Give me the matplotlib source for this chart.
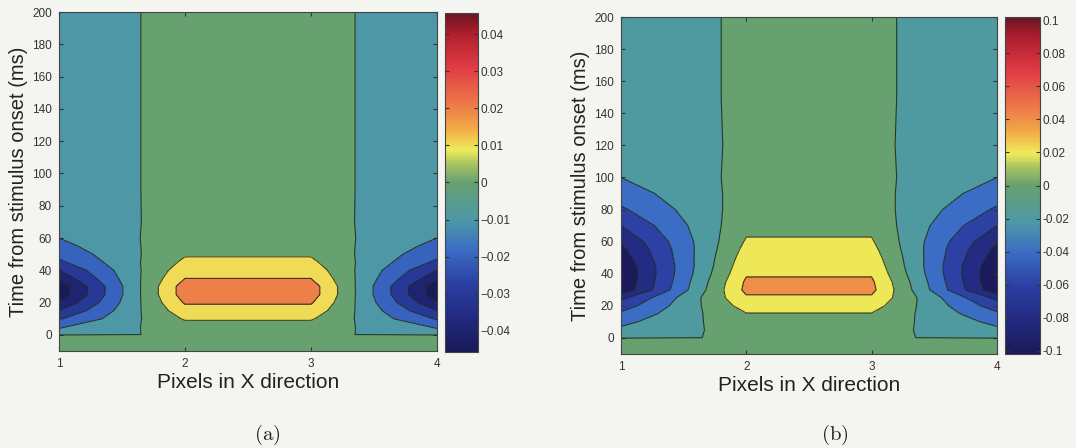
import numpy as np
import matplotlib
matplotlib.use("Agg")
from matplotlib import pyplot as plt
from matplotlib.colors import LinearSegmentedColormap, Normalize
from matplotlib.cm import ScalarMappable

## Data
# pixel positions (x) and time samples (ms); columns are [edge, centre, centre, edge]
pixels = [1, 2, 3, 4]
t_ms = [-10, -0.2, 0.2, 5, 10, 15, 20, 25, 30, 35, 40, 45, 50, 55, 60, 70, 80, 90, 100, 120, 150, 200]

# panel (a)
center_a = [0.003, 0.003, 0.0035, 0.006, 0.011, 0.016, 0.021, 0.025, 0.025, 0.020, 0.016,
            0.012, 0.009, 0.007, 0.0055, 0.0045, 0.004, 0.0035, 0.0035, 0.0035, 0.0035, 0.0035]
edge_a = [0.003, 0.003, -0.0065, -0.011, -0.021, -0.030, -0.039, -0.046, -0.046, -0.037, -0.030,
          -0.022, -0.017, -0.013, -0.010, -0.0085, -0.0075, -0.0065, -0.0065, -0.0065, -0.0065, -0.0065]

# panel (b)
center_b = [0.003, 0.003, 0.0065, 0.008, 0.013, 0.019, 0.028, 0.037, 0.045, 0.043, 0.038,
            0.034, 0.030, 0.026, 0.022, 0.015, 0.010, 0.007, 0.005, 0.003, 0.003, 0.003]
edge_b = [0.003, 0.003, -0.012, -0.016, -0.025, -0.036, -0.050, -0.065, -0.095, -0.098, -0.098,
          -0.096, -0.090, -0.085, -0.078, -0.060, -0.043, -0.030, -0.020, -0.013, -0.012, -0.012]

levels_a = [-0.05, -0.04, -0.03, -0.02, -0.01, 0, 0.01, 0.02, 0.03]
levels_b = [-0.12, -0.10, -0.08, -0.06, -0.04, -0.02, 0, 0.02, 0.04, 0.06]
clim_a = 0.0457
clim_b = 0.102

cbar_ticks_a = [-0.04, -0.03, -0.02, -0.01, 0, 0.01, 0.02, 0.03, 0.04]
cbar_labels_a = ["\u22120.04", "\u22120.03", "\u22120.02", "\u22120.01", "0",
                 "0.01", "0.02", "0.03", "0.04"]
cbar_ticks_b = [-0.1, -0.08, -0.06, -0.04, -0.02, 0, 0.02, 0.04, 0.06, 0.08, 0.1]
cbar_labels_b = ["-0.1", "-0.08", "-0.06", "-0.04", "-0.02", "0",
                 "0.02", "0.04", "0.06", "0.08", "0.1"]

# muted (scanned) jet-like colormap sampled from the colorbars
jet_scan = LinearSegmentedColormap.from_list("jet_scan", [
    (0.00, "#1a1a58"), (0.10, "#222a80"), (0.20, "#2b3fa2"), (0.30, "#3a6cc4"),
    (0.39, "#4d98a6"), (0.50, "#66a070"), (0.555, "#a8c462"), (0.595, "#eeec5a"),
    (0.66, "#f2aa46"), (0.72, "#ee8048"), (0.84, "#e03c44"), (0.94, "#b01e2e"),
    (1.00, "#6a1420")])

BG = "#f4f4f0"
SANS = ["Liberation Sans", "DejaVu Sans"]
plt.rcParams["font.family"] = SANS
plt.rcParams["mathtext.fontset"] = "cm"


def draw_panel(fig, ax_rect, cax_rect, center, edge, levels, clim,
               cticks, clabels, caption, cap_x):
    ax = fig.add_axes(ax_rect)
    cax = fig.add_axes(cax_rect)
    z = np.column_stack([edge, center, center, edge])
    X, T = np.meshgrid(pixels, t_ms)
    norm = Normalize(-clim, clim)
    # MATLAB style: each band takes the colour of its lower level
    band_cols = [jet_scan(norm(max(lo, -clim))) for lo in levels[:-1]]
    ax.contourf(X, T, z, levels=levels, colors=band_cols)
    ax.contour(X, T, z, levels=levels, colors="#1c261c", linewidths=0.8,
               linestyles="solid", alpha=0.85)

    ax.set_xlim(1, 4)
    ax.set_ylim(-10, 200)
    ax.set_xticks(pixels)
    ax.set_yticks(range(0, 201, 20))
    ax.tick_params(direction="in", top=True, right=True, length=3,
                   labelsize=8.5, colors="#333333", pad=5)
    for s in ax.spines.values():
        s.set_color("#444444")
        s.set_linewidth(0.8)
    ax.set_xlabel("Pixels in X direction", fontsize=15, color="#222222", labelpad=2)
    ax.set_ylabel("Time from stimulus onset (ms)", fontsize=14.5, color="#222222", labelpad=3)

    cb = fig.colorbar(ScalarMappable(norm=norm, cmap=jet_scan), cax=cax)
    cb.set_ticks(cticks)
    cb.set_ticklabels(clabels)
    cb.outline.set_edgecolor("#444444")
    cb.outline.set_linewidth(0.8)
    cax.tick_params(direction="in", left=True, right=True, length=3,
                    labelsize=8.5, colors="#333333", pad=2)

    fig.text(cap_x, 0.03, caption, fontsize=15, ha="center", va="center", color="#222222")
    return ax


fig = plt.figure(figsize=(10.76, 4.48), dpi=100)
fig.patch.set_facecolor(BG)

draw_panel(fig, [0.0548, 0.2165, 0.3513, 0.7567], [0.4136, 0.2143, 0.0307, 0.7567],
           center_a, edge_a, levels_a, clim_a, cbar_ticks_a, cbar_labels_a,
           r"$\mathrm{(a)}$", 267 / 1076)
draw_panel(fig, [0.5771, 0.2098, 0.3494, 0.7522], [0.934, 0.2098, 0.0325, 0.7522],
           center_b, edge_b, levels_b, clim_b, cbar_ticks_b, cbar_labels_b,
           r"$\mathrm{(b)}$", 835 / 1076)

fig.savefig("out.png", dpi=100, facecolor=fig.get_facecolor())
